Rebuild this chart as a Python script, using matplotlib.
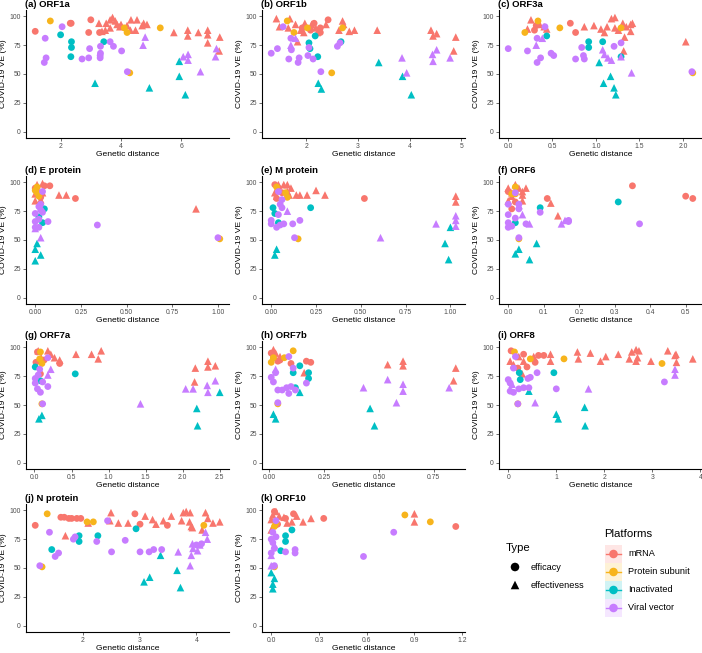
import matplotlib.pyplot as plt
from matplotlib.patches import Rectangle
from matplotlib.colors import to_rgb
from matplotlib.ticker import FormatStrFormatter

plt.rcParams['font.family'] = ['Liberation Sans', 'DejaVu Sans']

# --- Data: (genetic distance, VE %) per platform / study type ---
MR, PS, IN, VV = "mRNA", "Protein subunit", "Inactivated", "Viral vector"
EFC, EFV = "efficacy", "effectiveness"

platforms = [MR, PS, IN, VV]
platform_colors = ["#F8766D", "#F7B41C", "#00BFC4", "#C77CFF"]
types = [EFC, EFV]

orf1a = {
    (MR, EFC): [(1.16, 87), (2.32, 94), (2.35, 94), (3.0, 97), (2.93, 86), (3.29, 86)],
    (MR, EFV): [(3.27, 94), (3.51, 94), (3.64, 97), (3.72, 99), (3.81, 96), (3.87, 93), (3.96, 91),
                (3.64, 90), (3.48, 88), (3.37, 87), (4.33, 97), (4.53, 97), (4.31, 88), (4.48, 88),
                (4.75, 94), (4.86, 93), (4.70, 92), (4.2, 92), (4.0, 93), (5.75, 86), (6.21, 88),
                (6.21, 83), (6.56, 86), (6.87, 88), (6.87, 84), (6.87, 77), (7.27, 82), (7.25, 70)],
    (PS, EFC): [(1.66, 96), (4.11, 90), (4.2, 86), (5.3, 90), (4.29, 51)],
    (IN, EFC): [(2.0, 84), (2.36, 78), (2.36, 73), (2.34, 65), (3.43, 78)],
    (IN, EFV): [(3.14, 42), (4.94, 38), (5.93, 61), (5.93, 48), (6.13, 32)],
    (VV, EFC): [(2.05, 91), (1.49, 81), (1.52, 64), (1.46, 60), (2.71, 63), (2.93, 64), (2.96, 72),
                (3.32, 74), (3.32, 68), (3.31, 66), (3.31, 64), (3.64, 78), (3.75, 74), (4.02, 70),
                (4.21, 52)],
    (VV, EFV): [(4.73, 75), (4.8, 82), (6.06, 65), (6.22, 67), (6.22, 62), (6.63, 52), (7.16, 72),
                (7.13, 65)],
}

orf1b = {
    (MR, EFC): [(2.15, 94), (2.42, 97), (2.27, 86), (2.08, 88), (1.92, 90), (2.27, 90)],
    (MR, EFV): [(1.42, 98), (1.48, 91), (1.68, 98), (1.65, 90), (1.79, 93), (1.89, 88), (1.95, 86),
                (1.97, 94), (2.10, 93), (2.21, 86), (2.38, 93), (2.70, 96), (2.72, 93), (2.63, 88),
                (2.83, 87), (2.93, 88), (3.37, 88), (1.83, 78), (2.18, 90), (4.41, 88), (4.45, 83),
                (4.52, 85), (4.89, 82), (4.85, 70)],
    (PS, EFC): [(1.63, 96), (1.76, 86), (2.02, 90), (2.7, 90), (2.49, 51)],
    (IN, EFC): [(2.05, 77), (2.17, 83), (2.22, 65), (2.07, 72), (2.67, 78)],
    (IN, EFV): [(2.23, 42), (2.29, 37), (3.4, 60), (3.86, 48), (4.03, 32)],
    (VV, EFC): [(1.32, 68), (1.44, 72), (1.55, 91), (1.66, 63), (1.70, 81), (1.71, 71), (1.86, 64),
                (1.84, 60), (2.05, 73), (2.03, 66), (2.13, 63), (2.28, 52), (2.6, 74), (2.65, 77)],
    (VV, EFV): [(1.70, 75), (1.79, 81), (3.85, 64), (3.94, 51), (4.44, 67), (4.45, 61), (4.52, 71),
                (4.78, 64)],
}

orf3a = {
    (MR, EFC): [(0.30, 88), (0.32, 92), (0.71, 94), (0.77, 86)],
    (MR, EFV): [(0.22, 89), (0.26, 97), (0.36, 93), (0.41, 91), (0.44, 89), (0.87, 91), (0.98, 92),
                (1.06, 89), (1.1, 86), (1.13, 91), (1.18, 98), (1.22, 99), (1.22, 90), (1.31, 94),
                (1.26, 88), (1.35, 91), (1.42, 94), (1.40, 93), (1.33, 82), (1.40, 87), (1.32, 70),
                (2.03, 78)],
    (PS, EFC): [(0.19, 86), (0.34, 96), (0.59, 90), (1.29, 90), (2.11, 51)],
    (IN, EFC): [(0.44, 83), (0.92, 78), (0.92, 73), (1.08, 78), (1.29, 65)],
    (IN, EFV): [(1.04, 60), (1.09, 42), (1.17, 48), (1.21, 38), (1.23, 32)],
    (VV, EFC): [(0, 72), (0.22, 70), (0.33, 60), (0.37, 64), (0.33, 81), (0.42, 91), (0.49, 68),
                (0.52, 66), (0.77, 63), (0.84, 73), (0.86, 66), (0.87, 63), (1.21, 74), (1.29, 77),
                (2.1, 52)],
    (VV, EFV): [(0.32, 75), (0.39, 81), (1.08, 71), (1.1, 67), (1.14, 64), (1.18, 62), (1.29, 65),
                (1.41, 51)],
}

e_protein = {
    (MR, EFC): [(0.08, 97), (0.22, 86), (0.05, 97), (0.03, 87), (0, 95)],
    (MR, EFV): [(0.01, 98), (0.04, 99), (0, 90), (0.02, 92), (0, 84), (0.04, 91), (0.13, 89),
                (0.17, 89), (0.88, 77), (0.03, 85)],
    (PS, EFC): [(0.01, 96), (0.01, 91), (0.02, 88), (0, 93), (1.01, 51)],
    (IN, EFC): [(0.04, 77), (0.05, 77), (0.02, 70), (0.04, 65)],
    (IN, EFV): [(0.01, 47), (0, 42), (0.03, 37), (0, 32)],
    (VV, EFC): [(0, 73), (0, 66), (0, 61), (0.02, 68), (0.02, 79), (0.03, 76), (0.04, 74),
                (0.07, 66), (0.02, 61), (0.04, 92), (0.34, 63), (1.0, 52), (0.03, 81)],
    (VV, EFV): [(0.03, 52), (0, 60)],
}

m_protein = {
    (MR, EFC): [(0.02, 98), (0.04, 95), (0.03, 86), (0.06, 91), (0.52, 86)],
    (MR, EFV): [(0.02, 91), (0.04, 98), (0.07, 98), (0.09, 98), (0.11, 95), (0.14, 89), (0.16, 89),
                (0.2, 89), (0.25, 93), (0.30, 89), (0.09, 92), (0.03, 88), (1.03, 88), (1.03, 83),
                (0.10, 89)],
    (PS, EFC): [(0.03, 96), (0.08, 91), (0.09, 87), (0.15, 51)],
    (IN, EFC): [(0.01, 78), (0.02, 73), (0.04, 65), (0.22, 78)],
    (IN, EFV): [(0.03, 42), (0.02, 37), (0.97, 47), (1.0, 61), (0.99, 33)],
    (VV, EFC): [(0, 67), (0, 64), (0.03, 61), (0.05, 63), (0.07, 64), (0.04, 72), (0.05, 81),
                (0.06, 85), (0.06, 78), (0.04, 92), (0.12, 64), (0.16, 67), (0.13, 52)],
    (VV, EFV): [(0.09, 75), (0.61, 52), (0.92, 64), (1.03, 71), (1.03, 67), (1.03, 62)],
}

orf6 = {
    (MR, EFC): [(0, 92), (0.02, 83), (0.11, 86), (0.35, 97), (0.5, 88), (0.52, 86), (0.01, 77)],
    (MR, EFV): [(0, 95), (0.01, 91), (0.01, 88), (0.02, 98), (0.03, 95), (0.04, 92), (0.04, 89),
                (0.05, 95), (0.04, 84), (0.12, 82), (0.14, 71), (0, 84)],
    (PS, EFC): [(0.02, 96), (0.01, 90), (0.02, 90), (0.03, 51)],
    (IN, EFC): [(0.02, 65), (0.09, 78), (0.31, 83)],
    (IN, EFV): [(0.02, 38), (0.03, 42), (0.08, 47), (0.06, 33)],
    (VV, EFC): [(0, 72), (0, 65), (0, 61), (0.01, 62), (0, 81), (0.02, 91), (0.03, 81), (0.03, 77),
                (0.02, 69), (0.05, 64), (0.09, 74), (0.17, 67), (0.17, 66), (0.37, 64), (0.03, 52)],
    (VV, EFV): [(0.04, 72), (0.06, 64), (0.15, 64), (0.16, 67), (0.03, 80)],
}

orf7a = {
    (MR, EFC): [(0.04, 96), (0.02, 87), (0.34, 86), (0.13, 89), (0.08, 77)],
    (MR, EFV): [(0.05, 97), (0.18, 97), (0.22, 94), (0.27, 91), (0.34, 89), (0.56, 94), (0.77, 94),
                (0.90, 97), (0.86, 90), (2.17, 82), (2.16, 70), (2.34, 88), (2.34, 83), (2.44, 84),
                (0.09, 91)],
    (PS, EFC): [(0.08, 96), (0.07, 90), (0.1, 86), (0.1, 51)],
    (IN, EFC): [(0.01, 83), (0.55, 77), (0.08, 71)],
    (IN, EFV): [(0.06, 38), (0.1, 41), (2.19, 47), (2.2, 32), (2.5, 61)],
    (VV, EFC): [(0.01, 73), (0.01, 69), (0.04, 64), (0.08, 61), (0.11, 70), (0.18, 66), (0.07, 81),
                (0.18, 91), (0.11, 51), (0.05, 76)],
    (VV, EFV): [(0.18, 76), (0.22, 81), (1.43, 51), (2.04, 64), (2.14, 64), (2.33, 67), (2.34, 61),
                (2.44, 71)],
}

orf7b = {
    (MR, EFC): [(0.01, 95), (0.04, 88), (0.05, 89), (0.10, 86), (0.17, 88), (0.19, 87), (0.02, 91)],
    (MR, EFV): [(0.02, 98), (0.03, 95), (0.05, 92), (0.16, 78), (0.54, 85), (0.61, 88), (0.61, 84),
                (0.85, 82), (0.84, 71)],
    (PS, EFC): [(0.01, 87), (0.02, 91), (0.07, 91), (0.11, 97), (0.04, 51)],
    (IN, EFC): [(0.14, 84), (0.11, 78), (0.18, 78), (0.18, 73), (0.12, 65)],
    (IN, EFV): [(0.02, 42), (0.03, 38), (0.14, 61), (0.46, 47), (0.48, 32)],
    (VV, EFC): [(0.01, 74), (0.02, 70), (0.03, 78), (0.04, 63), (0.06, 63), (0.08, 65), (0.09, 60),
                (0.1, 66), (0.12, 63), (0.09, 92), (0.11, 82), (0.17, 69), (0.04, 52)],
    (VV, EFV): [(0.03, 81), (0.43, 65), (0.54, 72), (0.58, 52), (0.61, 68), (0.61, 62), (0.82, 65)],
}

orf8 = {
    (MR, EFC): [(0.06, 97), (0.32, 94), (0.56, 87), (0.63, 93), (0.74, 93), (0.2, 82), (0.39, 83)],
    (MR, EFV): [(0.04, 88), (0.11, 85), (0.22, 92), (0.32, 88), (0.53, 92), (0.88, 94), (0.88, 88),
                (1.44, 96), (1.46, 90), (1.71, 95), (1.92, 88), (2.03, 92), (2.29, 94), (2.57, 96),
                (2.66, 98), (2.72, 97), (2.66, 88), (2.69, 91), (2.52, 90), (2.97, 88), (3.32, 97),
                (3.49, 94), (3.5, 87), (3.47, 93), (3.84, 90), (0.29, 77)],
    (PS, EFC): [(0.13, 96), (0.46, 90), (1.16, 90), (3.2, 86), (0.2, 51)],
    (IN, EFC): [(0.23, 78), (0.25, 72), (0.95, 78)],
    (IN, EFV): [(0.43, 62), (1.0, 42), (1.04, 38), (1.59, 48), (1.6, 32)],
    (VV, EFC): [(0, 72), (0.04, 69), (0.04, 62), (0.11, 61), (0.22, 64), (0.15, 92), (0.11, 82),
                (0.43, 65), (0.46, 74), (0.6, 78), (1.0, 64), (3.25, 70), (0.41, 73), (0.32, 65),
                (0.2, 51)],
    (VV, EFV): [(0.08, 68), (0.56, 52), (1.67, 64), (3.47, 81), (3.47, 76)],
}

n_protein = {
    (MR, EFC): [(1.17, 87), (1.62, 94), (1.68, 94), (1.76, 93), (1.81, 93), (1.90, 93), (1.97, 93),
                (2.92, 97), (3.01, 88), (3.49, 87)],
    (MR, EFV): [(1.7, 78), (2.1, 89), (2.5, 98), (2.48, 91), (2.63, 89), (2.8, 89), (3.1, 95),
                (3.23, 92), (3.29, 88), (3.42, 91), (3.56, 95), (3.77, 98), (3.82, 99), (3.89, 98),
                (3.74, 91), (3.88, 90), (3.91, 86), (3.93, 85), (4.1, 83), (4.16, 98), (4.2, 93),
                (4.29, 89), (4.41, 90)],
    (PS, EFC): [(1.38, 97), (2.08, 90), (2.19, 90), (4.13, 87), (1.29, 51)],
    (IN, EFC): [(1.46, 66), (1.94, 78), (1.94, 73), (2.27, 78), (2.94, 84)],
    (IN, EFV): [(3.08, 38), (3.18, 42), (3.37, 61), (3.66, 48), (3.72, 33)],
    (VV, EFC): [(1.42, 81), (1.25, 52), (1.52, 60), (1.58, 63), (1.84, 75), (1.87, 77), (2.25, 73),
                (2.44, 91), (2.51, 64), (2.75, 74), (3.01, 64), (3.17, 64), (3.25, 66), (3.39, 66),
                (4.0, 70), (4.09, 71)],
    (VV, EFV): [(3.68, 64), (3.93, 71), (4.06, 70), (3.91, 61), (3.89, 52), (3.94, 67), (4.16, 81),
                (4.19, 75), (4.02, 65)],
}

orf10 = {
    (MR, EFC): [(0.02, 99), (0.09, 93), (0.14, 97), (0.33, 93), (1.16, 86), (0.04, 88)],
    (MR, EFV): [(0.01, 96), (0.03, 99), (0, 92), (0.02, 88), (0.05, 95), (0.08, 94), (0.13, 90),
                (0.16, 95), (0.2, 90), (0.25, 93), (0.9, 97), (0.9, 90), (0, 83), (0.1, 89)],
    (PS, EFC): [(0.02, 86), (0.03, 89), (0.84, 96), (1.0, 90), (0.02, 51)],
    (IN, EFC): [(0.13, 83), (0.09, 78), (0.09, 73), (0.06, 65)],
    (IN, EFV): [(0, 46), (0.02, 41), (0.01, 36), (0.01, 32)],
    (VV, EFC): [(0, 75), (0.01, 72), (0.02, 67), (0.03, 77), (0.03, 91), (0, 63), (0.09, 64),
                (0.15, 66), (0.15, 63), (0.02, 52), (0.58, 60), (0.77, 81), (0.01, 81)],
    (VV, EFV): [(0, 61), (0, 52), (0.02, 70)],
}

panel_titles = ["(a) ORF1a", "(b) ORF1b", "(c) ORF3a", "(d) E protein", "(e) M protein",
                "(f) ORF6", "(g) ORF7a", "(h) ORF7b", "(i) ORF8", "(j) N protein", "(k) ORF10"]
panel_data = [orf1a, orf1b, orf3a, e_protein, m_protein, orf6, orf7a, orf7b, orf8, n_protein, orf10]
panel_xticks = [[2, 4, 6], [2, 3, 4, 5], [0.0, 0.5, 1.0, 1.5, 2.0],
                [0.0, 0.25, 0.5, 0.75, 1.0], [0.0, 0.25, 0.5, 0.75, 1.0],
                [0.0, 0.1, 0.2, 0.3, 0.4, 0.5], [0.0, 0.5, 1.0, 1.5, 2.0, 2.5],
                [0.0, 0.25, 0.5, 0.75], [0, 1, 2, 3, 4], [2, 3, 4], [0.0, 0.3, 0.6, 0.9, 1.2]]
panel_xfmt = ["%d", "%d", "%.1f", "%.2f", "%.2f", "%.1f", "%.1f", "%.2f", "%d", "%d", "%.1f"]
y_ticks = [0, 25, 50, 75, 100]

markers = {EFC: "o", EFV: "^"}
sizes = {EFC: 24, EFV: 30}

# --- Layout (pixels) ---
W, H = 702, 653
col_left = [26, 262, 499]
row_top = [10, 176, 341, 504]
ax_w, ax_h = 203, 128

fig = plt.figure(figsize=(W / 100, H / 100), dpi=100)

for i, (title, data) in enumerate(zip(panel_titles, panel_data)):
    r, c = divmod(i, 3)
    ax = fig.add_axes([col_left[c] / W, 1 - (row_top[r] + ax_h) / H, ax_w / W, ax_h / H])

    all_x = [p[0] for pts in data.values() for p in pts]
    for plat, col in zip(platforms, platform_colors):
        for t in types:
            pts = data.get((plat, t), [])
            if not pts:
                continue
            ax.scatter([p[0] for p in pts], [p[1] for p in pts], marker=markers[t],
                       s=sizes[t], color=col, edgecolors="none", zorder=3)

    x0, x1 = min(all_x), max(all_x)
    pad = (x1 - x0) * 0.05
    ax.set_xlim(x0 - pad, x1 + pad)
    ax.set_ylim(-5.5, 105.5)
    ax.set_xticks(panel_xticks[i])
    ax.xaxis.set_major_formatter(FormatStrFormatter(panel_xfmt[i]))
    ax.set_yticks(y_ticks)

    for side in ["top", "right"]:
        ax.spines[side].set_visible(False)
    for side in ["left", "bottom"]:
        ax.spines[side].set_linewidth(0.8)
        ax.spines[side].set_color("black")
    ax.tick_params(length=2.5, width=0.5, color="#333333", labelsize=4.9,
                   labelcolor="#4D4D4D", pad=1.2)

    ax.set_xlabel("Genetic distance", fontsize=6.1, labelpad=0.5)
    ax.set_ylabel("COVID-19 VE (%)", fontsize=6.1, labelpad=2)
    ax.set_title(title, loc="left", fontsize=6.8, fontweight="bold", pad=2.5, x=-0.005)

# --- Legends ---
lg = fig.add_axes([0, 0, 1, 1])
lg.set_xlim(0, W)
lg.set_ylim(H, 0)
lg.axis("off")
lg.patch.set_visible(False)

lg.text(506, 548, "Type", fontsize=8.2, va="center", ha="left")
for yy, t in zip([567, 585], types):
    lg.scatter([515], [yy], marker=markers[t], s=38, color="black", edgecolors="none")
    lg.text(531, yy, t, fontsize=6.6, va="center", ha="left")

lg.text(604, 534, "Platforms", fontsize=8.2, va="center", ha="left")
for yy, plat, col in zip([554, 572, 590, 608], platforms, platform_colors):
    rgb = to_rgb(col)
    tint = tuple(1 - 0.18 * (1 - v) for v in rgb)
    lg.add_patch(Rectangle((605, yy - 9), 17, 18, facecolor=tint, edgecolor="none"))
    lg.plot([606, 621], [yy, yy], color=col, lw=1.0)
    lg.scatter([613.5], [yy], marker="o", s=38, color=col, edgecolors="none", zorder=3)
    lg.text(628, yy, plat, fontsize=6.6, va="center", ha="left")

fig.savefig("out.png", dpi=100)
